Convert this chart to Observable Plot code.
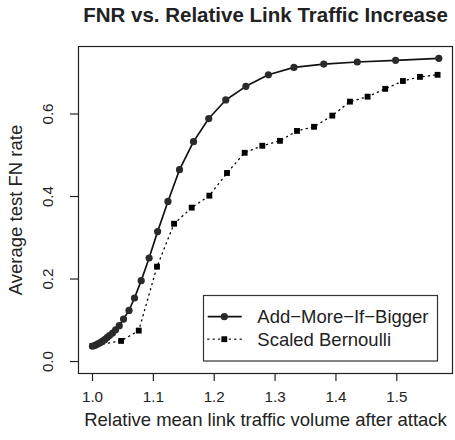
<!DOCTYPE html>
<html>
<head>
<meta charset="utf-8">
<script src="https://cdn.jsdelivr.net/npm/d3@7"></script>
<script src="https://cdn.jsdelivr.net/npm/@observablehq/plot@0.6"></script>
<style>
  html, body { margin: 0; padding: 0; background: #fff; }
  #wrap { position: relative; width: 455px; height: 440px; }
  #legend { position: absolute; left: 0; top: 0; }
  svg { font-family: "Liberation Sans", Arial, Helvetica, sans-serif; }
</style>
</head>
<body>
<div id="wrap"></div>
<script>
const titleText = "FNR vs. Relative Link Traffic Increase";
const xLabel = "Relative mean link traffic volume after attack";
const yLabel = "Average test FN rate";
const seriesNames = ["Add\u2212More\u2212If\u2212Bigger", "Scaled Bernoulli"];

const xTicks = [1.0, 1.1, 1.2, 1.3, 1.4, 1.5];
const xTickLabels = ["1.0", "1.1", "1.2", "1.3", "1.4", "1.5"];
const yTicks = [0.0, 0.2, 0.4, 0.6];
const yTickLabels = ["0.0", "0.2", "0.4", "0.6"];

const xA = [1.000,1.004,1.008,1.012,1.016,1.020,1.024,1.028,1.033,1.038,1.044,1.051,1.060,1.069,1.080,1.093,1.107,1.124,1.143,1.166,1.191,1.219,1.252,1.289,1.331,1.380,1.435,1.498,1.569];
const yA = [0.037,0.039,0.042,0.045,0.049,0.053,0.058,0.063,0.069,0.077,0.087,0.103,0.124,0.154,0.196,0.251,0.315,0.388,0.465,0.533,0.589,0.634,0.667,0.695,0.713,0.721,0.726,0.730,0.735];

const xB = [1.000,1.047,1.076,1.106,1.134,1.163,1.192,1.221,1.250,1.279,1.308,1.336,1.364,1.394,1.423,1.452,1.481,1.510,1.538,1.567];
const yB = [0.038,0.050,0.075,0.230,0.334,0.373,0.402,0.457,0.506,0.523,0.535,0.559,0.569,0.596,0.630,0.642,0.661,0.680,0.690,0.695];

const dataA = xA.map((x, i) => ({x, y: yA[i]}));
const dataB = xB.map((x, i) => ({x, y: yB[i]}));
const xt = xTicks.map((v, i) => ({v, label: xTickLabels[i]}));
const yt = yTicks.map((v, i) => ({v, label: yTickLabels[i]}));

const fs = 18.5;
const tfs = 15.2;

const chart = Plot.plot({
  width: 455,
  height: 440,
  marginLeft: 78,
  marginRight: 3,
  marginTop: 46,
  marginBottom: 67,
  x: {domain: [0.977, 1.5915]},
  y: {domain: [-0.029, 0.7636]},
  style: {fontFamily: '"Liberation Sans", Arial, Helvetica, sans-serif', background: "#fff"},
  marks: [
    Plot.line(dataB, {x: "x", y: "y", stroke: "#000", strokeWidth: 1.3, strokeDasharray: "1.2,4.2", strokeLinecap: "round"}),
    Plot.dot(dataB, {x: "x", y: "y", symbol: "square", r: 3.3, fill: "#000", stroke: "none"}),
    Plot.line(dataA, {x: "x", y: "y", stroke: "#111", strokeWidth: 1.7}),
    Plot.dot(dataA, {x: "x", y: "y", r: 3.6, fill: "#2a2a2a", stroke: "none"}),
    Plot.frame({stroke: "#222", strokeWidth: 1.2}),
    Plot.axisX({ticks: xTicks, tickSize: 8, text: null, stroke: "#222", strokeWidth: 1.2}),
    Plot.axisY({ticks: yTicks, tickSize: 8, text: null, stroke: "#222", strokeWidth: 1.2}),
    Plot.text(xt, {x: "v", text: "label", frameAnchor: "bottom", dy: 23.5, lineAnchor: "middle", textAnchor: "middle", fontSize: tfs, fill: "#222"}),
    Plot.text(yt, {y: "v", text: "label", frameAnchor: "left", dx: -30, rotate: -90, lineAnchor: "middle", textAnchor: "middle", fontSize: tfs, fill: "#222"}),
    Plot.text([xLabel], {frameAnchor: "bottom", dy: 46.5, lineAnchor: "middle", textAnchor: "middle", fontSize: fs, fill: "#222"}),
    Plot.text([yLabel], {frameAnchor: "left", dx: -62.5, rotate: -90, lineAnchor: "middle", textAnchor: "middle", fontSize: fs, fill: "#222"}),
    Plot.text([titleText], {frameAnchor: "top", dy: -31, lineAnchor: "middle", textAnchor: "middle", fontSize: 20.5, fontWeight: "bold", fill: "#222"})
  ]
});

const wrap = document.getElementById("wrap");
wrap.appendChild(chart);

// Legend overlay
const ns = "http://www.w3.org/2000/svg";
const leg = document.createElementNS(ns, "svg");
leg.setAttribute("id", "legend");
leg.setAttribute("width", 455);
leg.setAttribute("height", 440);
leg.style.pointerEvents = "none";
const box = document.createElementNS(ns, "rect");
box.setAttribute("x", 203.5); box.setAttribute("y", 295.5);
box.setAttribute("width", 234); box.setAttribute("height", 65.5);
box.setAttribute("fill", "#fff"); box.setAttribute("stroke", "#333"); box.setAttribute("stroke-width", 1.2);
leg.appendChild(box);
const rows = [316.7, 339.2];
seriesNames.forEach((name, i) => {
  const yy = rows[i];
  const ln = document.createElementNS(ns, "line");
  ln.setAttribute("x1", 207.7); ln.setAttribute("x2", 241.7);
  ln.setAttribute("y1", yy); ln.setAttribute("y2", yy);
  ln.setAttribute("stroke", "#111");
  if (i === 0) { ln.setAttribute("stroke-width", 1.7); }
  else { ln.setAttribute("stroke-width", 1.3); ln.setAttribute("stroke-dasharray", "1.2,4.2"); ln.setAttribute("stroke-linecap", "round"); }
  leg.appendChild(ln);
  if (i === 0) {
    const c = document.createElementNS(ns, "circle");
    c.setAttribute("cx", 224.3); c.setAttribute("cy", yy); c.setAttribute("r", 3.6); c.setAttribute("fill", "#2a2a2a");
    leg.appendChild(c);
  } else {
    const s = document.createElementNS(ns, "rect");
    s.setAttribute("x", 224.3 - 2.9); s.setAttribute("y", yy - 2.9); s.setAttribute("width", 5.8); s.setAttribute("height", 5.8); s.setAttribute("fill", "#000");
    leg.appendChild(s);
  }
  const t = document.createElementNS(ns, "text");
  t.setAttribute("x", 257.3); t.setAttribute("y", yy);
  t.setAttribute("dy", "0.35em");
  t.setAttribute("font-size", fs);
  t.setAttribute("fill", "#222");
  t.textContent = name;
  leg.appendChild(t);
});
wrap.appendChild(leg);
</script>
</body>
</html>
